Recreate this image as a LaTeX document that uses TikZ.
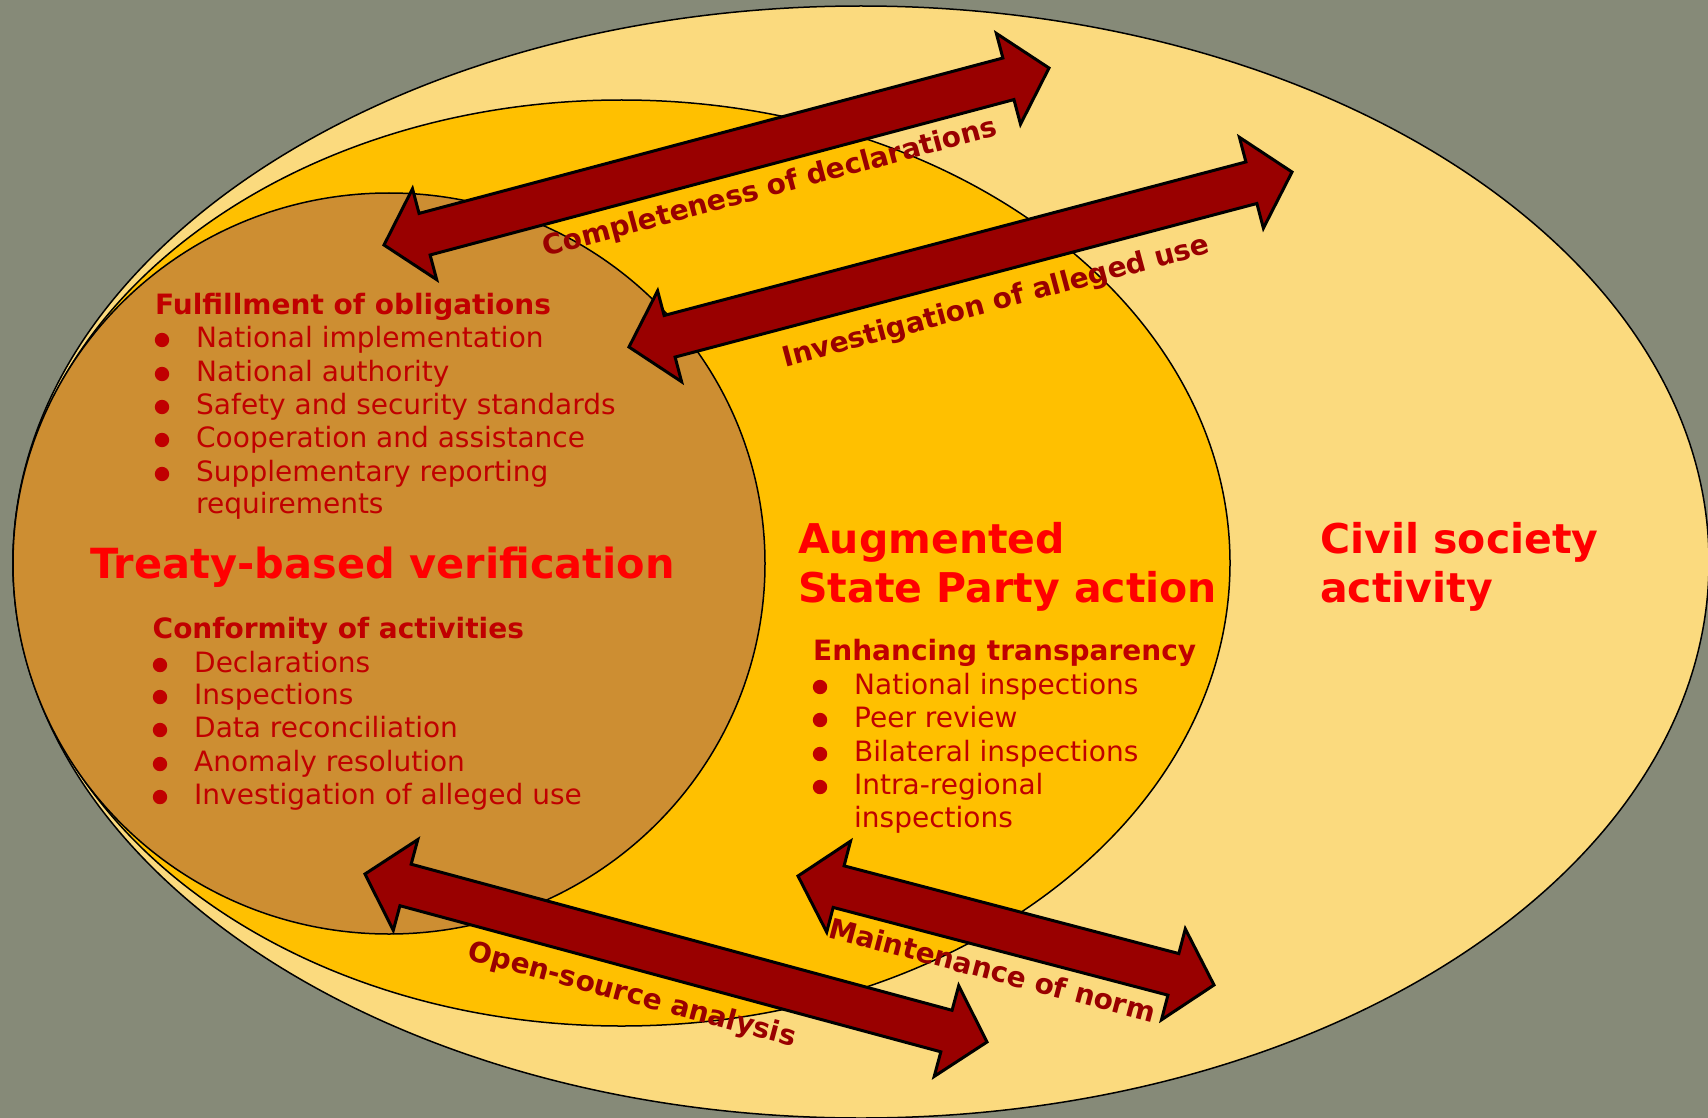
\documentclass[tikz,border=0pt]{standalone}
\usepackage{fontspec}
\setmainfont{DejaVu Sans}
\usetikzlibrary{shapes.geometric,calc}
\definecolor{bg}{RGB}{134,138,120}
\definecolor{outerc}{RGB}{251,218,126}
\definecolor{midc}{RGB}{255,192,0}
\definecolor{innerc}{RGB}{205,142,50}
\definecolor{arrowred}{RGB}{153,0,0}
\definecolor{itemred}{RGB}{192,0,0}
\definecolor{headred}{RGB}{255,0,0}
\tikzset{
  ring/.style={ellipse, draw=black, line width=1.5pt, inner sep=0pt},
  headtxt/.style={font=\fontsize{41}{49}\selectfont\bfseries, text=headred, anchor=base west, inner sep=0pt},
  subtxt/.style={font=\fontsize{28}{33}\selectfont\bfseries, text=itemred, anchor=base west, inner sep=0pt},
  itemtxt/.style={font=\fontsize{28}{33}\selectfont, text=itemred, anchor=base west, inner sep=0pt},
  lbltxt/.style={font=\fontsize{28}{33}\selectfont\bfseries, text=arrowred, anchor=base, inner sep=0pt},
  blockarr/.style={fill=arrowred, draw=black, line width=3pt, line join=miter},
  bulletdot/.style={fill=itemred}
}
\newcommand\blockarrow[2]{%
  \draw[blockarr] (#1)
    -- ($(#1)!42pt!(#2)!47pt!90:(#2)$)
    -- ($(#1)!42pt!(#2)!21.5pt!90:(#2)$)
    -- ($(#2)!42pt!(#1)!21.5pt!-90:(#1)$)
    -- ($(#2)!42pt!(#1)!47pt!-90:(#1)$)
    -- (#2)
    -- ($(#2)!42pt!(#1)!47pt!90:(#1)$)
    -- ($(#2)!42pt!(#1)!21.5pt!90:(#1)$)
    -- ($(#1)!42pt!(#2)!21.5pt!-90:(#2)$)
    -- ($(#1)!42pt!(#2)!47pt!-90:(#2)$)
    -- cycle;}
\newcommand\bdot[2]{\fill[bulletdot] (#1,#2-7) circle[radius=7.2pt];}
\begin{document}
\begin{tikzpicture}[x=1pt,y=-1pt]
\useasboundingbox (0,0) rectangle (1708,1118);
\fill[bg] (0,0) rectangle (1708,1118);
% ellipses
\node[ring, fill=outerc, minimum width=1696pt, minimum height=1112pt] (outer) at (861,562) {};
\node[ring, fill=midc, minimum width=1217pt, minimum height=926pt] (middle) at (621.5,563) {};
\node[ring, fill=innerc, minimum width=752pt, minimum height=741pt] (inner) at (389,563.5) {};
% headings
\node[headtxt, font=\fontsize{41.5}{49}\selectfont\bfseries] (treaty) at (90,578) {Treaty-based verification};
\node[headtxt] (aug1) at (798,553) {Augmented};
\node[headtxt] (aug2) at (798,602) {State Party action};
\node[headtxt] (civ1) at (1320,553) {Civil society};
\node[headtxt] (civ2) at (1320,602) {activity};
% block 1
\node[subtxt] (ful) at (155,314) {Fulfillment of obligations};
\node[itemtxt] (f1) at (196,347) {National implementation};
\node[itemtxt] (f2) at (196,381) {National authority};
\node[itemtxt] (f3) at (196,414) {Safety and security standards};
\node[itemtxt] (f4) at (196,447) {Cooperation and assistance};
\node[itemtxt] (f5) at (196,481) {Supplementary reporting};
\node[itemtxt] (f6) at (196,513) {requirements};
\bdot{162}{347}\bdot{162}{381}\bdot{162}{414}\bdot{162}{447}\bdot{162}{481}
% block 2
\node[subtxt] (conf) at (152.5,638) {Conformity of activities};
\node[itemtxt] (c1) at (194,672) {Declarations};
\node[itemtxt] (c2) at (194,704) {Inspections};
\node[itemtxt] (c3) at (194,737) {Data reconciliation};
\node[itemtxt] (c4) at (194,771) {Anomaly resolution};
\node[itemtxt] (c5) at (194,804) {Investigation of alleged use};
\bdot{160}{672}\bdot{160}{704}\bdot{160}{737}\bdot{160}{771}\bdot{160}{804}
% block 3
\node[subtxt] (enh) at (813,660) {Enhancing transparency};
\node[itemtxt] (e1) at (854,694) {National inspections};
\node[itemtxt] (e2) at (854,727) {Peer review};
\node[itemtxt] (e3) at (854,761) {Bilateral inspections};
\node[itemtxt] (e4) at (854,794) {Intra-regional};
\node[itemtxt] (e5) at (854,827) {inspections};
\bdot{820}{694}\bdot{820}{727}\bdot{820}{761}\bdot{820}{794}
% arrows
\coordinate (a1l) at (384,245);  \coordinate (a1r) at (1049,68);
\coordinate (a2l) at (629,347);  \coordinate (a2r) at (1292,172);
\coordinate (a3l) at (365,874);  \coordinate (a3r) at (987,1042);
\coordinate (a4l) at (798,876);  \coordinate (a4r) at (1214,985);
\blockarrow{a1l}{a1r}
\blockarrow{a2l}{a2r}
\blockarrow{a3l}{a3r}
\blockarrow{a4l}{a4r}
% arrow labels
\node[lbltxt, rotate=15] (l1) at (772,196) {Completeness of declarations};
\node[lbltxt, rotate=15] (l2) at (998,310) {Investigation of alleged use};
\node[lbltxt, rotate=-15] (l3) at (630,1003) {Open-source analysis};
\node[lbltxt, rotate=-14.7] (l4) at (990,980) {Maintenance of norm};
\end{tikzpicture}
\end{document}
